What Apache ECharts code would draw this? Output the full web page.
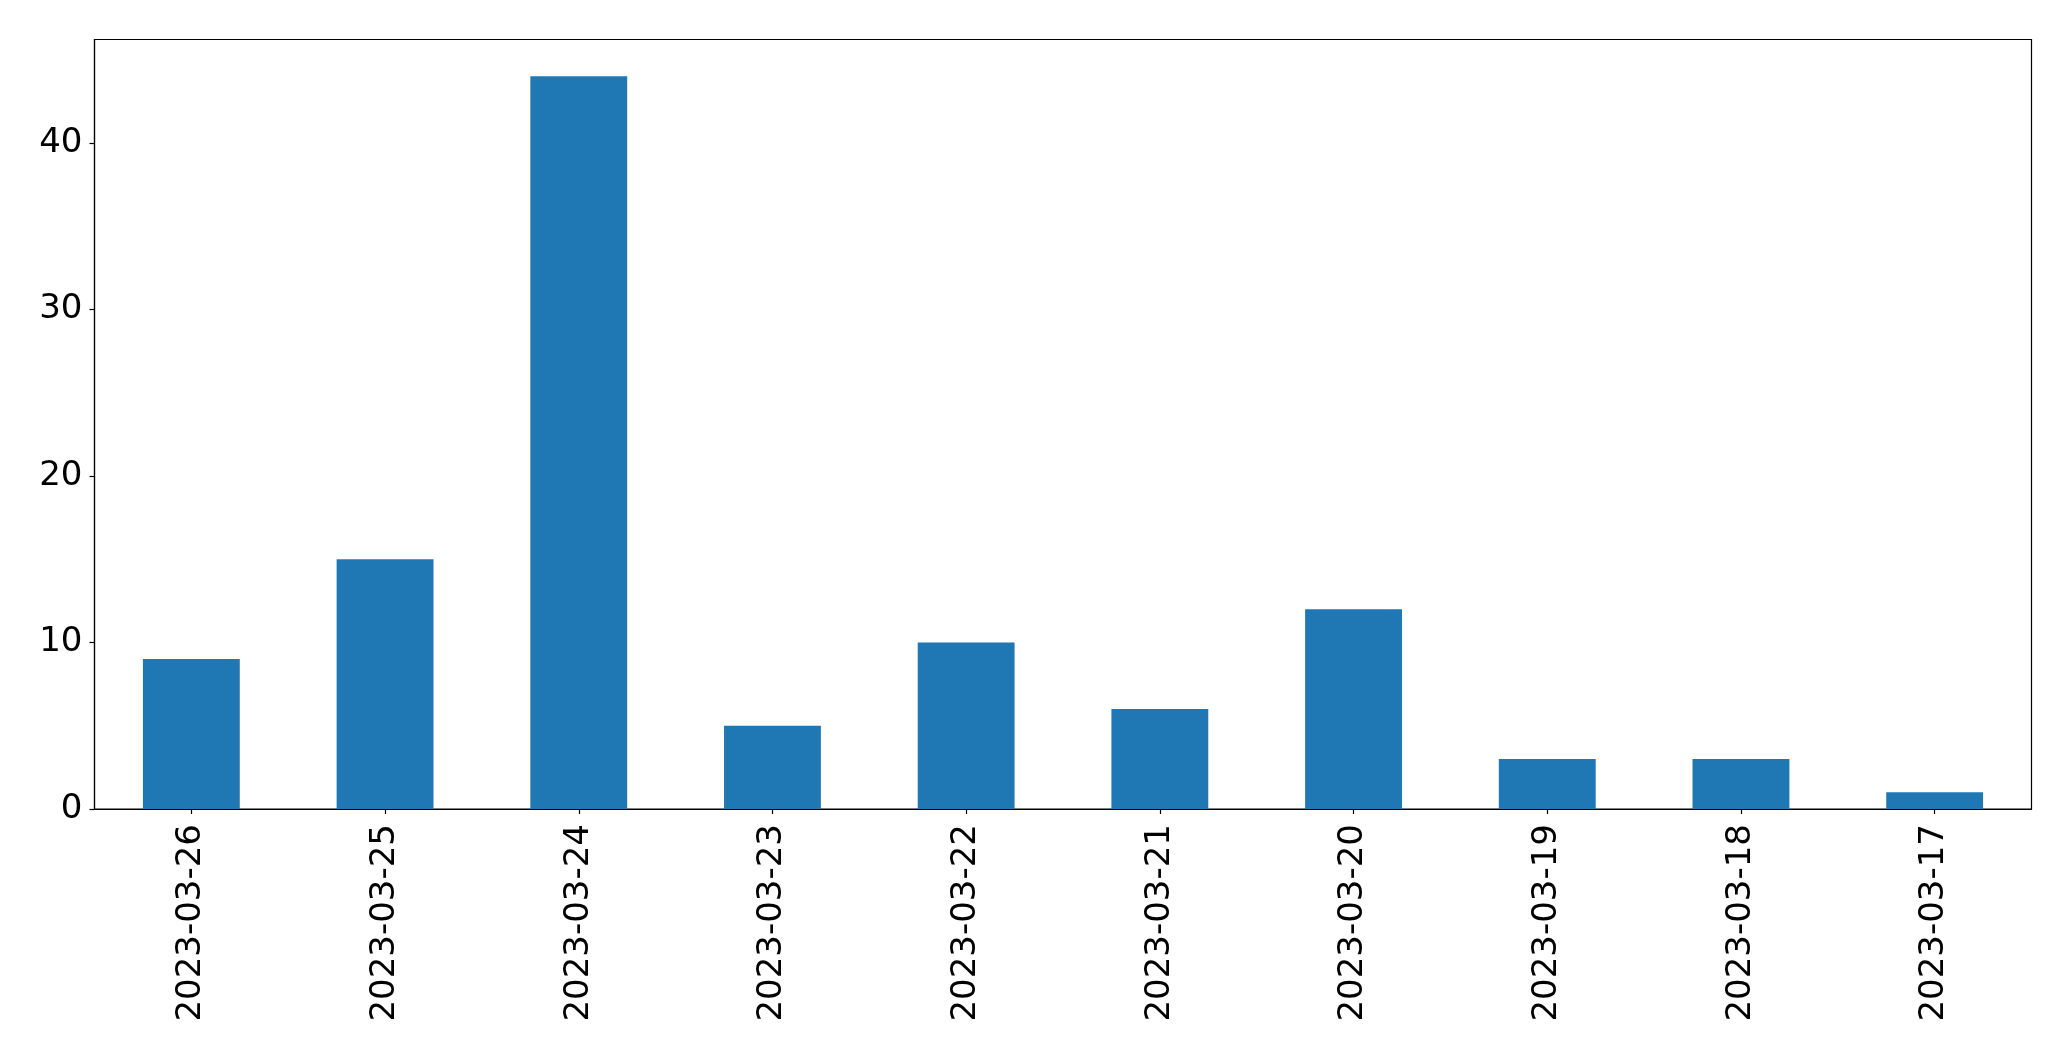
<!DOCTYPE html>
<html>
<head>
<meta charset="utf-8">
<script src="https://cdn.jsdelivr.net/npm/echarts@6/dist/echarts.min.js"></script>
<style>
html,body{margin:0;padding:0;background:#fff;}
#chart{width:2071px;height:1061px;}
</style>
</head>
<body>
<div id="chart"></div>
<script>
const categories = ["2023-03-26","2023-03-25","2023-03-24","2023-03-23","2023-03-22","2023-03-21","2023-03-20","2023-03-19","2023-03-18","2023-03-17"];
const values = [9, 15, 44, 5, 10, 6, 12, 3, 3, 1];
const yTicks = [0, 10, 20, 30, 40];

const chart = echarts.init(document.getElementById('chart'), null, {renderer: 'canvas'});
const font = 'DejaVu Sans';
chart.setOption({
  animation: false,
  backgroundColor: '#ffffff',
  grid: {
    left: 94.5, top: 39.5, right: 39.5, bottom: 252,
    show: true, borderColor: '#000', borderWidth: 1.2, backgroundColor: 'transparent'
  },
  xAxis: {
    type: 'category',
    data: categories,
    boundaryGap: true,
    axisLine: {show: true, lineStyle: {color: '#000', width: 1.2}},
    axisTick: {show: true, alignWithLabel: true, length: 5, lineStyle: {color: '#000', width: 1.2}},
    axisLabel: {rotate: 90, interval: 0, margin: 15, fontFamily: font, fontSize: 34, color: '#000'},
    splitLine: {show: false}
  },
  yAxis: {
    type: 'value',
    min: 0, max: 46.2, interval: 10,
    axisLine: {show: true, lineStyle: {color: '#000', width: 1.2}},
    axisTick: {show: true, length: 5, customValues: yTicks, lineStyle: {color: '#000', width: 1.2}},
    axisLabel: {
      margin: 12, fontFamily: font, fontSize: 34, color: '#000',
      customValues: yTicks,
      formatter: function (v) { return yTicks.indexOf(v) >= 0 ? String(v) : ''; }
    },
    splitLine: {show: false}
  },
  series: [{
    type: 'bar',
    data: values,
    barWidth: '50%',
    itemStyle: {color: '#1f77b4'}
  }]
});
</script>
</body>
</html>
